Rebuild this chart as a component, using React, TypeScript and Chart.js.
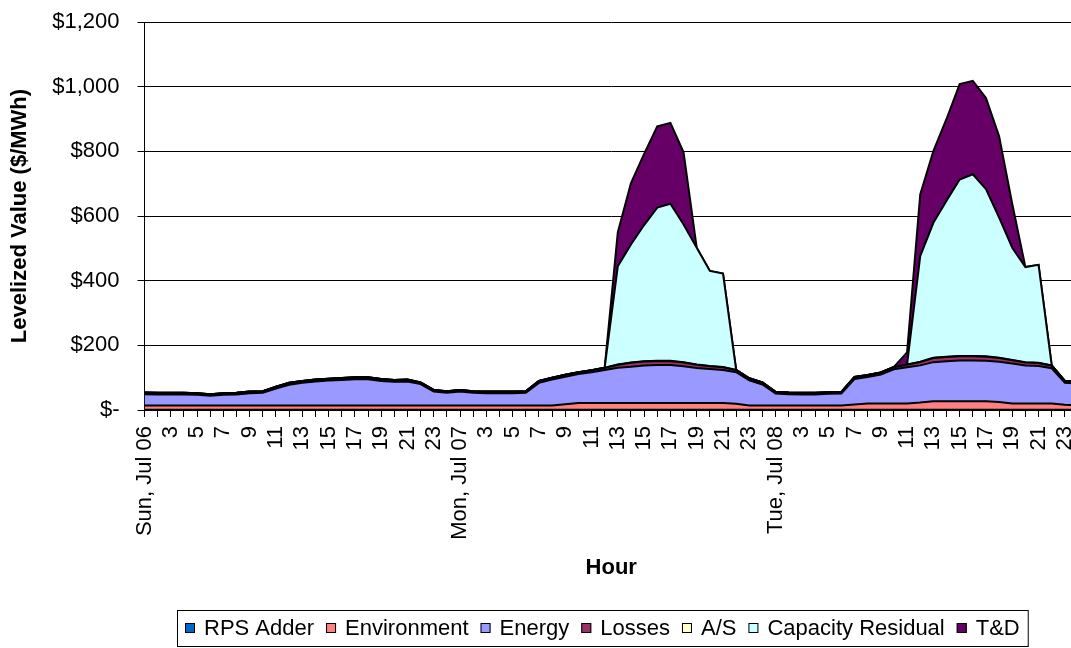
import React, { useEffect, useRef } from 'react';
import { Chart, registerables } from 'chart.js';

Chart.register(...registerables);

const FONT = '"Liberation Sans", Arial, Helvetica, sans-serif';

const dayLabels = ['Sun, Jul 06', 'Mon, Jul 07', 'Tue, Jul 08'];
const hourLabels = ['1', '2', '3', '4', '5', '6', '7', '8', '9', '10', '11', '12', '13', '14', '15', '16', '17', '18', '19', '20', '21', '22', '23', '24'];
const categories = dayLabels.flatMap((d) => hourLabels.map((h, k) => (k === 0 ? d : h)));

const yTicks = [0, 200, 400, 600, 800, 1000, 1200];

const seriesNames = ['RPS Adder', 'Environment', 'Energy', 'Losses', 'A/S', 'Capacity Residual', 'T&D'];
const seriesColors = ['#0066CC', '#FF8080', '#9999FF', '#993366', '#FFFFCC', '#CCFFFF', '#660066'];

const rpsAdder = [
  1, 1, 1, 1, 1, 1, 1, 1, 1, 1, 1, 1, 1, 1, 1, 1, 1, 1, 1, 1, 1, 1, 1, 1,
  1, 1, 1, 1, 1, 1, 1, 1, 1, 1, 1, 1, 1, 1, 1, 1, 1, 1, 1, 1, 1, 1, 1, 1,
  1, 1, 1, 1, 1, 1, 1, 1, 1, 1, 1, 1, 1, 1, 1, 1, 1, 1, 1, 1, 1, 1, 1, 1,
];
const environment = [
  13, 13, 13, 13, 13, 13, 13, 13, 13, 13, 13, 13, 13, 13, 13, 13, 13, 13, 13, 13, 13, 13, 13, 13,
  13, 13, 13, 13, 13, 13, 13, 13, 17, 21, 21, 21, 21, 21, 21, 21, 21, 21, 21, 21, 21, 18, 13, 13,
  13, 13, 13, 13, 13, 13, 16, 19, 19, 19, 19, 22, 26, 26, 26, 26, 26, 24, 19, 19, 19, 19, 15, 13,
];
const energy = [
  35, 34, 34, 34, 33, 30, 33, 34, 38, 39, 52, 64, 70, 74, 77, 79, 81, 81, 76, 73, 74, 66, 43, 39,
  43, 39, 38, 38, 38, 39, 70, 80, 85, 89, 95, 102, 109, 112, 116, 117, 117, 113, 108, 105, 102, 98, 78, 65,
  37, 35, 34, 34, 36, 37, 79, 82, 90, 106, 112, 115, 121, 124, 126, 126, 125, 124, 124, 118, 116, 109, 68, 68,
];
const losses = [
  4, 4, 4, 4, 4, 4, 4, 4, 4, 4, 5, 5, 5, 5, 5, 5, 5, 5, 5, 5, 5, 4, 4, 4,
  4, 4, 4, 4, 4, 4, 5, 5, 5, 5, 5, 6, 9, 12, 12, 12, 12, 12, 10, 8, 8, 6, 5, 5,
  4, 4, 4, 4, 4, 4, 5, 5, 5, 6, 8, 10, 13, 13, 13, 13, 13, 12, 10, 9, 9, 8, 5, 5,
];
const ancillary = [
  1, 1, 1, 1, 1, 1, 1, 1, 1, 1, 1, 1, 1, 1, 1, 1, 1, 1, 1, 1, 1, 1, 1, 1,
  1, 1, 1, 1, 1, 1, 1, 1, 1, 1, 1, 1, 1, 1, 1, 1, 1, 1, 1, 1, 1, 1, 1, 1,
  1, 1, 1, 1, 1, 1, 1, 1, 1, 1, 1, 1, 1, 1, 1, 1, 1, 1, 1, 1, 1, 1, 1, 1,
];
const capacityResidual = [
  0, 0, 0, 0, 0, 0, 0, 0, 0, 0, 0, 0, 0, 0, 0, 0, 0, 0, 0, 0, 0, 0, 0, 0,
  0, 0, 0, 0, 0, 0, 0, 0, 0, 0, 0, 0, 304, 365, 421, 474, 486, 426, 361, 294, 289, 0, 0, 0,
  0, 0, 0, 0, 0, 0, 0, 0, 0, 0, 0, 327, 417, 482, 546, 562, 517, 433, 347, 294, 303, 0, 0, 0,
];
const tAndD = [
  0, 0, 0, 0, 0, 0, 0, 0, 0, 0, 0, 0, 0, 0, 0, 0, 0, 0, 0, 0, 0, 0, 0, 0,
  0, 0, 0, 0, 0, 0, 0, 0, 0, 0, 0, 0, 105, 190, 220, 251, 250, 223, 0, 0, 0, 0, 0, 0,
  0, 0, 0, 0, 0, 0, 0, 0, 0, 0, 37, 191, 222, 253, 295, 289, 282, 252, 135, 0, 0, 0, 0, 0,
];

const seriesValues = [rpsAdder, environment, energy, losses, ancillary, capacityResidual, tAndD];

const boxLegend = {
  id: 'boxLegend',
  afterDraw(chart: any) {
    const ctx = chart.ctx as CanvasRenderingContext2D;
    ctx.save();
    ctx.font = `22px ${FONT}`;
    const boxLeft = 177;
    const boxTop = 610;
    const boxBottom = 646;
    const padX = 8;
    const marker = 10;
    const mGap = 9;
    const iGap = 12;
    const cy = (boxTop + boxBottom) / 2;
    let x = boxLeft + padX;
    chart.data.datasets.forEach((ds: any) => {
      ctx.fillStyle = ds.backgroundColor;
      ctx.fillRect(x, cy - 5, marker, marker);
      ctx.strokeStyle = '#000';
      ctx.lineWidth = 1;
      ctx.strokeRect(x + 0.5, cy - 4.5, marker - 1, marker - 1);
      x += marker + mGap;
      ctx.fillStyle = '#000';
      ctx.textAlign = 'left';
      ctx.textBaseline = 'middle';
      ctx.fillText(ds.label, x, cy + 1);
      x += ctx.measureText(ds.label).width + iGap;
    });
    const boxRight = x - iGap + padX;
    ctx.strokeStyle = '#000';
    ctx.lineWidth = 1;
    ctx.strokeRect(boxLeft + 0.5, boxTop + 0.5, boxRight - boxLeft, boxBottom - boxTop);
    ctx.restore();
  },
};

export default function App() {
  const ref = useRef<HTMLCanvasElement>(null);

  useEffect(() => {
    if (!ref.current) return;
    const chart = new Chart(ref.current, {
      type: 'line',
      data: {
        labels: categories,
        datasets: seriesNames.map((name, i) => ({
          label: name,
          data: seriesValues[i],
          backgroundColor: seriesColors[i],
          borderColor: '#000',
          borderWidth: 2,
          fill: i === 0 ? 'origin' : '-1',
          pointRadius: 0,
          pointHoverRadius: 0,
          tension: 0,
        })),
      },
      options: {
        animation: false,
        responsive: false,
        maintainAspectRatio: false,
        devicePixelRatio: 1,
        events: [],
        layout: { padding: { top: 22, right: 22, bottom: 66.8, left: 0 } },
        plugins: {
          legend: { display: false },
          tooltip: { enabled: false },
        },
        scales: {
          x: {
            type: 'category',
            offset: false,
            grid: { drawOnChartArea: false, drawTicks: true, tickLength: 7, color: '#000', lineWidth: 1 },
            border: { display: true, color: '#000', width: 1 },
            ticks: {
              autoSkip: false,
              maxRotation: 90,
              minRotation: 90,
              padding: 9,
              color: '#000',
              font: { size: 22, family: FONT },
              callback: (_v: any, i: number) => (i % 2 === 0 ? categories[i] : ''),
            },
            title: {
              display: true,
              text: 'Hour',
              color: '#000',
              font: { size: 22, weight: 'bold', family: FONT },
              padding: { top: 0, bottom: 0 },
            },
            afterFit: (s: any) => {
              s.height = 171.2;
              s.paddingLeft = 0;
              s.paddingRight = 0;
            },
          },
          y: {
            stacked: true,
            min: yTicks[0],
            max: yTicks[yTicks.length - 1],
            afterBuildTicks: (s: any) => {
              s.ticks = yTicks.map((v) => ({ value: v }));
            },
            ticks: {
              padding: 18,
              color: '#000',
              font: { size: 22, family: FONT },
              callback: (v: any) => (Number(v) === 0 ? '$-' : '$' + Number(v).toLocaleString('en-US')),
            },
            grid: { color: '#000', lineWidth: 1, tickLength: 7, drawTicks: true },
            border: { display: true, color: '#000', width: 1 },
            title: {
              display: true,
              text: 'Levelized Value ($/MWh)',
              color: '#000',
              font: { size: 22, weight: 'bold', family: FONT },
              padding: { top: 7, bottom: 0 },
            },
            afterFit: (s: any) => {
              s.width = 144.5;
              s.paddingTop = 0;
              s.paddingBottom = 0;
            },
          },
        },
      },
      plugins: [boxLegend],
    });
    return () => chart.destroy();
  }, []);

  return (
    <div
      style={{
        position: 'fixed',
        left: 0,
        top: 0,
        width: 1071,
        height: 648,
        overflow: 'hidden',
        background: '#fff',
      }}
    >
      <canvas ref={ref} width={1100} height={648} style={{ display: 'block', width: 1100, height: 648 }} />
    </div>
  );
}
